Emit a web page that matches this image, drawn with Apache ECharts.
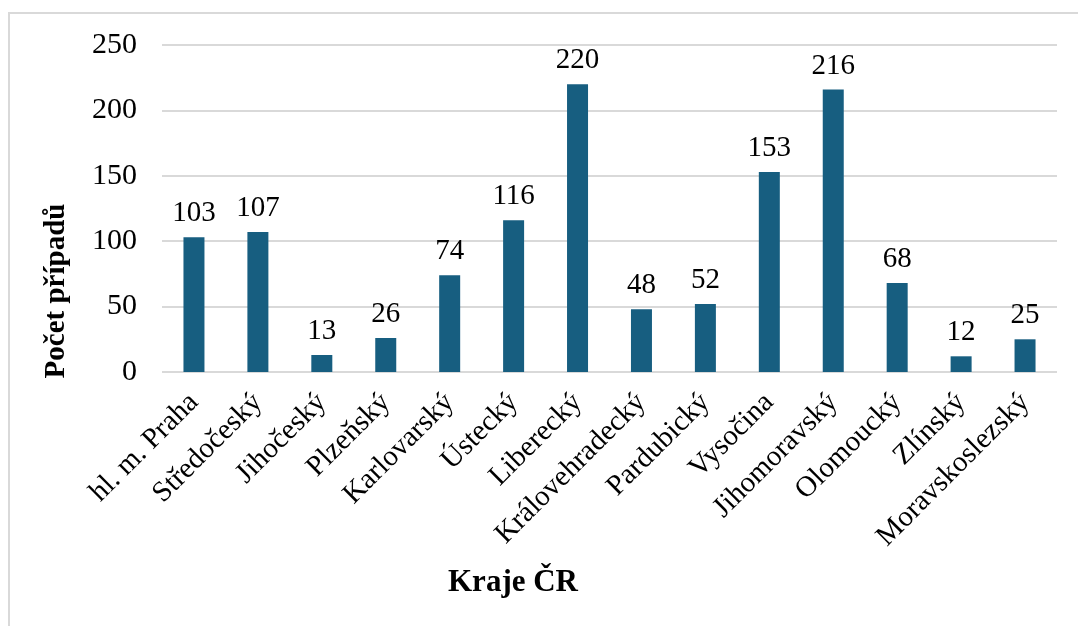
<!DOCTYPE html>
<html>
<head>
<meta charset="utf-8">
<script src="https://cdn.jsdelivr.net/npm/echarts@6/dist/echarts.min.js"></script>
<style>
  html, body { margin: 0; padding: 0; background: #fff; }
  #chart { width: 1078px; height: 626px; }
</style>
</head>
<body>
<div id="chart"></div>
<script>
// Regions of the Czech Republic and the number of recorded cases in each
const regions = ['hl. m. Praha', 'Středočeský', 'Jihočeský', 'Plzeňský', 'Karlovarský', 'Ústecký',
  'Liberecký', 'Královehradecký', 'Pardubický', 'Vysočina', 'Jihomoravský', 'Olomoucký',
  'Zlínský', 'Moravskoslezský'];
const cases = [103, 107, 13, 26, 74, 116, 220, 48, 52, 153, 216, 68, 12, 25];
const yTicks = { min: 0, max: 250, interval: 50 };

const serif = 'Liberation Serif';
const chart = echarts.init(document.getElementById('chart'));

chart.setOption({
  animation: false,
  textStyle: { fontFamily: serif },
  grid: { left: 162, right: 21, top: 45, bottom: 254, containLabel: false },
  xAxis: {
    type: 'category',
    data: regions,
    axisLine: { show: false },
    axisTick: { show: false },
    axisLabel: {
      rotate: 45,
      interval: 0,
      margin: 26,
      color: '#000',
      fontFamily: serif,
      fontSize: 29
    }
  },
  yAxis: {
    type: 'value',
    min: yTicks.min,
    max: yTicks.max,
    interval: yTicks.interval,
    axisLine: { show: false },
    axisTick: { show: false },
    splitLine: { lineStyle: { color: '#d9d9d9', width: 2 } },
    axisLabel: {
      margin: 25,
      color: '#000',
      fontFamily: serif,
      fontSize: 30
    }
  },
  series: [{
    type: 'bar',
    data: cases,
    barWidth: 21,
    itemStyle: { color: '#175e80' },
    label: {
      show: true,
      position: 'top',
      distance: 9,
      color: '#000',
      fontFamily: serif,
      fontSize: 29
    }
  }],
  graphic: [
    {
      type: 'rect',
      shape: { x: 9, y: 13, width: 1200, height: 800 },
      style: { fill: 'none', stroke: '#d9d9d9', lineWidth: 2 },
      silent: true
    },
    {
      type: 'text',
      x: 57,
      y: 291,
      rotation: Math.PI / 2,
      style: {
        text: 'Počet případů',
        fontFamily: serif,
        fontSize: 29,
        fontWeight: 'bold',
        fill: '#000',
        textAlign: 'center',
        textVerticalAlign: 'middle'
      }
    },
    {
      type: 'text',
      x: 513,
      y: 583,
      style: {
        text: 'Kraje ČR',
        fontFamily: serif,
        fontSize: 31,
        fontWeight: 'bold',
        fill: '#000',
        textAlign: 'center',
        textVerticalAlign: 'middle'
      }
    }
  ]
});
</script>
</body>
</html>
